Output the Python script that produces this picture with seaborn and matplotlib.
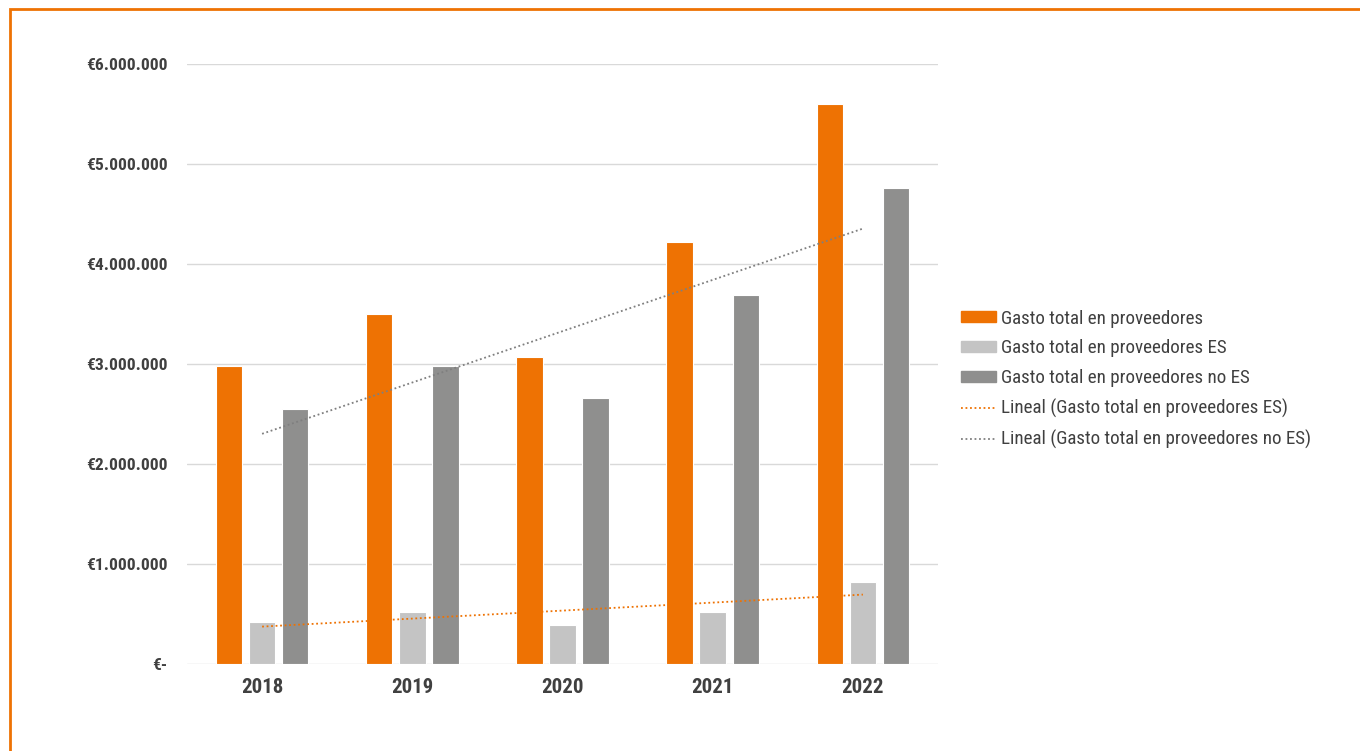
import numpy as np
import pandas as pd
import matplotlib
matplotlib.use("Agg")
import matplotlib.pyplot as plt
import matplotlib.patches as mpatches
import matplotlib.lines as mlines
from matplotlib import font_manager as fm
from matplotlib.ticker import FuncFormatter
import seaborn as sns

# ---- data ----
years = ["2018", "2019", "2020", "2021", "2022"]
total = [2.98e6, 3.50e6, 3.07e6, 4.22e6, 5.60e6]
es = [0.42e6, 0.52e6, 0.39e6, 0.52e6, 0.82e6]
no_es = [2.55e6, 2.98e6, 2.66e6, 3.69e6, 4.76e6]
series_names = ["Gasto total en proveedores",
                "Gasto total en proveedores ES",
                "Gasto total en proveedores no ES"]
trend_names = ["Lineal (Gasto total en proveedores ES)",
               "Lineal (Gasto total en proveedores no ES)"]
yticks = [0, 1e6, 2e6, 3e6, 4e6, 5e6, 6e6]

# ---- style ----
ORANGE = "#EE7203"
LIGHT = "#C4C4C4"
DARK = "#8F8F8E"
TREND_GRAY = "#7F7F7F"
TEXT = "#404040"

sns.set_theme(style="white")
names = {f.name for f in fm.fontManager.ttflist}
fam = None
for cand in ["Roboto Condensed", "Liberation Sans Narrow", "Roboto", "DejaVu Sans"]:
    if cand in names:
        fam = cand
        break
plt.rcParams["font.family"] = [fam, "DejaVu Sans"]

df = pd.DataFrame({
    "year": years * 3,
    "serie": [series_names[0]] * 5 + [series_names[1]] * 5 + [series_names[2]] * 5,
    "value": total + es + no_es,
})

fig = plt.figure(figsize=(13.6, 7.51), dpi=100)
ax = fig.add_axes([187 / 1360, 1 - 664 / 751, (938 - 187) / 1360, 600 / 751])

sns.barplot(data=df, x="year", y="value", hue="serie",
            palette=[ORANGE, LIGHT, DARK], saturation=1, width=0.66, gap=0.2,
            edgecolor="white", linewidth=0.8, ax=ax, legend=False, zorder=3)

# linear trendlines
xs = np.arange(len(years))
for vals, col in [(es, ORANGE), (no_es, TREND_GRAY)]:
    m, b = np.polyfit(xs, vals, 1)
    ax.plot(xs, m * xs + b, linestyle=(0, (1, 1.5)), color=col, linewidth=1.3, zorder=4)

ax.set_ylim(0, 6e6)
ax.set_xlim(-0.5, len(years) - 0.5)
ax.set_yticks(yticks)
ax.yaxis.set_major_formatter(FuncFormatter(
    lambda v, p: "€-" if v == 0 else "€" + f"{v:,.0f}".replace(",", ".")))
ax.grid(axis="y", color="#D9D9D9", linewidth=1, zorder=0)
ax.set_axisbelow(True)
for s in ax.spines.values():
    s.set_visible(False)
ax.tick_params(axis="both", length=0)
ax.tick_params(axis="y", pad=14, labelsize=12.6, labelcolor=TEXT)
ax.tick_params(axis="x", pad=10, labelsize=15, labelcolor=TEXT)
for t in ax.get_yticklabels():
    t.set_fontweight("bold")
for t in ax.get_xticklabels():
    t.set_fontweight("semibold")
ax.set_xlabel("")
ax.set_ylabel("")

handles = [
    mpatches.Patch(color=ORANGE),
    mpatches.Patch(color=LIGHT),
    mpatches.Patch(color=DARK),
    mlines.Line2D([], [], color=ORANGE, linestyle=(0, (1, 1.5)), linewidth=1.3),
    mlines.Line2D([], [], color=TREND_GRAY, linestyle=(0, (1, 1.5)), linewidth=1.3),
]
leg = fig.legend(handles, series_names + trend_names,
                 loc="upper left", bbox_to_anchor=(953 / 1360, 1 - 302 / 751),
                 frameon=False, fontsize=13.7, labelcolor=TEXT,
                 handlelength=1.85, handleheight=0.5, handletextpad=0.25,
                 labelspacing=0.62, borderaxespad=0)

# orange frame (left/top visible)
fig.patches.append(mpatches.Rectangle((10 / 1360, -0.1), 1.2, (1 - 9 / 751) + 0.1,
                                      transform=fig.transFigure, fill=False,
                                      edgecolor=ORANGE, linewidth=2, zorder=10))

fig.savefig("out.png", dpi=100, facecolor="white")
